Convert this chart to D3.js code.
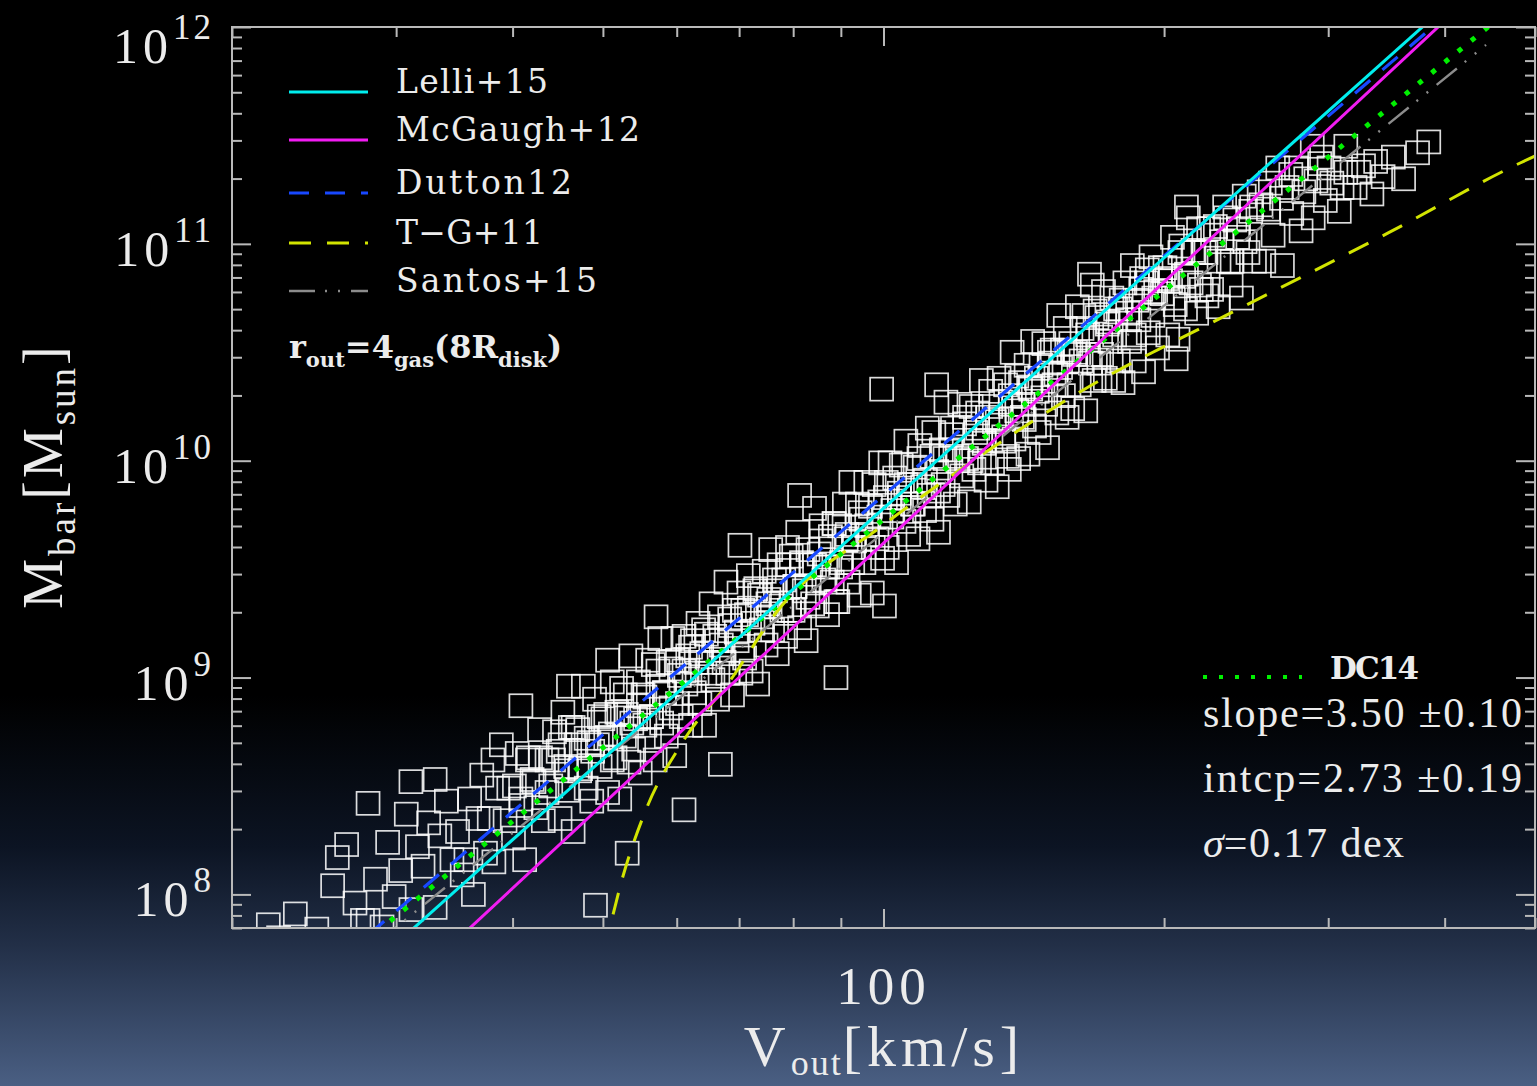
<!DOCTYPE html>
<html>
<head>
<meta charset="utf-8">
<script src="https://cdn.jsdelivr.net/npm/d3@7"></script>
<style>
  html, body { margin: 0; padding: 0; background: #000; overflow: hidden; }
  svg { display: block; }
</style>
</head>
<body>
<svg id="chart" width="1537" height="1086"></svg>
<script>
// ---- data -------------------------------------------------------------
const velocityDomain = [20, 500];          // Vout, km/s
const massDomain = [7e7, 1e12];            // Mbar, Msun
const xMajorTicks = [100];
const yMajorTicks = [1e8, 1e9, 1e10, 1e11, 1e12];

// simulated galaxies: [log10 Vout (km/s), log10 Mbar (Msun)]
const galaxies = [
  [1.340,7.86],[1.351,7.80],[1.369,7.91],[1.392,7.84],[1.409,8.04],[1.414,8.17],[1.424,8.23],[1.433,7.96],[1.441,7.88],[1.447,8.42],[1.447,7.88],
  [1.455,8.07],[1.462,7.85],[1.468,8.24],[1.475,7.99],[1.482,8.11],[1.488,8.37],[1.493,7.93],[1.500,8.22],[1.506,8.13],[1.512,8.33],[1.519,7.94],[1.524,8.27],[1.531,8.43],[1.537,8.16],[1.543,8.29],[1.548,8.09],[1.493,8.52],[1.519,8.53],
  [1.552,8.16],[1.556,8.44],[1.560,8.00],[1.565,8.35],[1.569,8.55],[1.573,8.19],[1.577,8.35],[1.582,8.15],[1.586,8.49],[1.590,8.69],[1.594,8.34],[1.598,8.49],[1.603,8.26],[1.607,8.65],[1.611,8.44],[1.615,8.16],[1.619,8.63],[1.623,8.53],[1.627,8.40],[1.631,8.76],[1.635,8.34],[1.639,8.62],[1.643,8.50],[1.647,8.75],[1.581,8.62],[1.611,8.87],
  [1.651,8.66],[1.653,8.35],[1.656,8.84],[1.659,8.59],[1.661,8.48],[1.664,8.77],[1.667,8.29],[1.670,8.69],[1.672,8.76],[1.675,8.58],[1.678,8.96],[1.681,8.49],[1.684,8.70],[1.687,8.43],[1.690,8.90],[1.693,8.69],[1.696,8.59],[1.699,8.81],[1.662,8.96],[1.691,7.95],
  [1.702,8.83],[1.704,8.47],[1.707,8.74],[1.709,8.98],[1.712,8.63],[1.714,8.84],[1.717,8.44],[1.719,8.95],[1.722,8.73],[1.724,8.83],[1.727,8.61],[1.729,9.10],[1.732,8.67],[1.734,8.81],[1.737,8.98],[1.739,8.56],[1.742,8.92],[1.744,8.78],[1.747,9.08],[1.749,8.71],[1.704,9.08],[1.725,8.19],
  [1.751,8.82],[1.753,9.06],[1.755,8.62],[1.758,8.96],[1.760,9.18],[1.762,8.79],[1.765,8.93],[1.767,8.73],[1.769,9.07],[1.772,8.86],[1.774,9.18],[1.776,8.64],[1.779,9.08],[1.781,9.01],[1.783,8.82],[1.786,9.19],[1.788,8.97],[1.790,9.10],[1.793,8.78],[1.795,9.17],[1.797,8.93],[1.799,9.07],[1.756,9.28],[1.786,8.39],
  [1.801,9.25],[1.803,8.88],[1.805,9.11],[1.808,8.78],[1.810,9.20],[1.812,9.07],[1.815,9.34],[1.817,8.99],[1.819,9.19],[1.822,8.90],[1.824,9.28],[1.826,9.15],[1.829,9.07],[1.831,9.44],[1.833,9.02],[1.836,9.24],[1.838,8.92],[1.840,9.31],[1.843,9.17],[1.845,9.39],[1.847,9.02],[1.849,9.31],[1.825,8.60],[1.846,9.61],
  [1.851,9.09],[1.853,9.29],[1.855,9.47],[1.858,9.03],[1.860,9.25],[1.862,9.40],[1.865,8.97],[1.867,9.38],[1.869,9.22],[1.872,9.49],[1.874,9.15],[1.876,9.34],[1.879,9.59],[1.881,9.22],[1.883,9.45],[1.886,9.11],[1.888,9.52],[1.890,9.33],[1.893,9.45],[1.895,9.19],[1.897,9.60],[1.899,9.31],
  [1.901,9.56],[1.903,9.31],[1.905,9.42],[1.908,9.67],[1.910,9.23],[1.912,9.52],[1.915,9.40],[1.917,9.17],[1.919,9.59],[1.922,9.52],[1.924,9.34],[1.926,9.78],[1.929,9.33],[1.931,9.57],[1.933,9.70],[1.936,9.45],[1.938,9.51],[1.940,9.29],[1.943,9.65],[1.945,9.44],[1.947,9.71],[1.949,9.35],[1.910,9.84],[1.949,9.00],
  [1.951,9.35],[1.953,9.70],[1.955,9.53],[1.958,9.80],[1.960,9.64],[1.962,9.44],[1.965,9.90],[1.967,9.53],[1.969,9.63],[1.972,9.80],[1.974,9.38],[1.976,9.73],[1.979,9.53],[1.981,9.90],[1.983,9.66],[1.986,9.79],[1.988,9.39],[1.990,9.89],[1.993,9.64],[1.995,9.74],[1.997,9.99],[1.999,9.55],[1.998,10.33],[2.001,9.33],
  [2.002,9.83],[2.004,9.60],[2.007,9.99],[2.009,9.74],[2.012,9.92],[2.014,9.53],[2.017,9.83],[2.019,9.98],[2.022,9.72],[2.024,10.09],[2.027,9.66],[2.029,9.89],[2.032,9.80],[2.034,9.97],[2.037,9.64],[2.039,10.07],[2.042,9.88],[2.044,9.77],[2.047,10.15],[2.049,9.84],
  [2.052,9.73],[2.054,10.13],[2.057,9.95],[2.059,9.67],[2.062,10.05],[2.064,9.89],[2.067,10.27],[2.069,9.84],[2.072,10.05],[2.074,10.15],[2.077,9.80],[2.079,10.02],[2.082,10.26],[2.084,9.93],[2.087,10.17],[2.089,10.01],[2.092,9.81],[2.094,10.25],[2.097,9.96],[2.099,10.13],[2.057,10.35],
  [2.101,10.22],[2.103,9.99],[2.105,10.37],[2.108,10.08],[2.110,9.91],[2.112,10.20],[2.115,10.32],[2.117,9.99],[2.119,10.18],[2.122,9.88],[2.124,10.38],[2.126,10.27],[2.129,10.11],[2.131,10.35],[2.133,10.02],[2.136,10.26],[2.138,10.50],[2.140,10.10],[2.143,10.23],[2.145,10.01],[2.147,10.36],[2.149,10.20],[2.135,9.96],
  [2.151,10.19],[2.153,10.44],[2.155,10.03],[2.158,10.33],[2.160,10.55],[2.162,10.16],[2.165,10.32],[2.167,10.13],[2.169,10.44],[2.172,10.54],[2.174,10.26],[2.176,10.06],[2.179,10.45],[2.181,10.51],[2.183,10.35],[2.186,10.22],[2.188,10.67],[2.190,10.43],[2.193,10.30],[2.195,10.61],[2.197,10.20],[2.199,10.50],
  [2.201,10.54],[2.203,10.24],[2.205,10.49],[2.208,10.71],[2.210,10.35],[2.212,10.46],[2.215,10.67],[2.217,10.23],[2.219,10.58],[2.222,10.45],[2.224,10.81],[2.226,10.37],[2.229,10.66],[2.231,10.45],[2.233,10.57],[2.236,10.78],[2.238,10.38],[2.240,10.63],[2.243,10.55],[2.245,10.75],[2.247,10.37],[2.249,10.70],[2.221,10.86],
  [2.252,10.46],[2.254,10.70],[2.257,10.36],[2.259,10.82],[2.262,10.65],[2.264,10.55],[2.267,10.90],[2.269,10.46],[2.272,10.74],[2.274,10.65],[2.277,10.84],[2.279,10.41],[2.282,10.82],[2.284,10.59],[2.287,10.94],[2.289,10.67],[2.292,10.78],[2.294,10.52],[2.297,10.89],[2.299,10.77],[2.314,10.47],
  [2.302,10.89],[2.305,10.58],[2.308,10.83],[2.310,11.03],[2.313,10.72],[2.316,10.56],[2.319,10.99],[2.322,10.85],[2.324,10.70],[2.327,11.12],[2.330,10.82],[2.333,10.96],[2.336,10.68],[2.338,11.07],[2.341,10.79],[2.344,10.96],[2.347,10.76],[2.349,11.07],[2.325,11.17],
  [2.352,10.79],[2.356,11.08],[2.359,10.71],[2.363,11.01],[2.366,11.17],[2.370,10.92],[2.373,10.81],[2.377,11.11],[2.380,11.03],[2.384,10.75],[2.387,11.22],[2.391,10.96],[2.394,11.15],[2.398,10.92],
  [2.403,11.24],[2.408,10.92],[2.413,11.16],[2.418,11.04],[2.423,11.35],[2.428,10.90],[2.433,11.26],[2.438,11.14],[2.443,11.35],[2.448,11.06],
  [2.453,11.30],[2.461,11.12],[2.468,11.37],[2.474,11.20],[2.481,11.28],[2.489,11.15],[2.496,11.33],[2.460,11.45],[2.496,11.45],[2.470,11.40],
  [2.506,11.26],[2.515,11.36],[2.524,11.23],[2.536,11.31],[2.547,11.40],
  [2.558,11.30],[2.573,11.42],[2.585,11.47],
  // densest part of the sequence
  [1.604,8.50],[1.611,8.41],[1.618,8.62],[1.625,8.52],[1.632,8.63],[1.639,8.47],[1.646,8.62],[1.653,8.69],[1.660,8.57],[1.667,8.77],
  [1.674,8.57],[1.681,8.72],[1.688,8.66],[1.695,8.82],[1.702,8.72],[1.709,8.62],[1.716,8.83],[1.723,8.92],[1.730,8.79],[1.737,8.87],
  [1.744,8.91],[1.751,8.82],[1.758,9.03],[1.765,8.93],[1.772,9.04],[1.779,8.88],[1.786,9.03],[1.793,9.14],[1.800,9.02],[1.807,9.22],
  [1.814,9.02],[1.821,9.17],[1.828,9.11],[1.835,9.27],[1.842,9.21],[1.849,9.11],[1.856,9.32],[1.863,9.41],[1.870,9.28],[1.877,9.36],
  [1.884,9.40],[1.891,9.31],[1.898,9.52],[1.905,9.42],[1.912,9.53],[1.919,9.37],[1.926,9.52],[1.933,9.63],[1.940,9.51],[1.947,9.71],
  [1.954,9.51],[1.961,9.66],[1.968,9.60],[1.975,9.76],[1.982,9.70],[1.989,9.60],[1.996,9.81],[2.003,9.90],[2.010,9.77],[2.017,9.85],
  [2.024,9.89],[2.031,9.80],[2.038,10.01],[2.045,9.91],[2.052,10.02],[2.059,9.86],[2.066,10.01],[2.073,10.12],[2.080,10.00],[2.087,10.20],
  [2.094,10.00],[2.101,10.15],[2.108,10.09],[2.115,10.25],[2.122,10.19],[2.129,10.09],[2.136,10.30],[2.143,10.39],[2.150,10.26],[2.157,10.34],
  [2.164,10.38],[2.171,10.29],[2.178,10.50],[2.185,10.40],[2.192,10.51],[2.199,10.35],[2.206,10.50],[2.213,10.61],[2.220,10.49],[2.227,10.69],
  [2.234,10.49],[2.241,10.64],[2.248,10.58],[2.255,10.74],[2.262,10.68],[2.269,10.58],[2.276,10.79],[2.283,10.88],[2.290,10.75],[2.297,10.83],
  [2.304,10.84],[2.311,10.75],[2.318,10.96],[2.325,10.86],[2.332,10.97],[2.339,10.81],[2.346,10.96],[2.353,11.04],[2.360,10.92],[2.367,11.12],
  [2.374,10.92],[2.381,11.07],[2.388,11.01],[2.395,11.17],
  [2.405,11.18],[2.415,11.28],[2.427,11.21],[2.437,11.32],[2.451,11.24],[2.464,11.29],[2.478,11.35],[2.492,11.26],[2.510,11.33],[2.528,11.38]
];

// published relations: log Mbar = intercept + slope * log Vout
const relationNames      = ["Lelli+15", "McGaugh+12", "Dutton12", "T\u2212G+11", "Santos+15"];
const relationSlopes     = [3.84, 4.00, 3.666, null, 3.48];
const relationIntercepts = [2.10, 1.62, 2.508, null, 2.708];
const relationVmax       = [500, 500, 500, null, 443];

// T-G+11 curve (Vout km/s, Mbar Msun)
const tgVout = [49.9, 50.8, 52.5, 55.7, 60.8, 68.6, 76.7, 100, 120, 163.8, 233.6, 347.5, 482, 500];
const tgMbar = [5.5e7, 7.0e7, 1.2e8, 2.5e8, 5.0e8, 9.8e8, 1.99e9, 5.06e9, 8.9e9, 2.12e10, 4.7e10, 1.12e11, 2.36e11, 2.54e11];

// DC14 fit to the simulated sample
const dc14Slope = 3.50, dc14SlopeErr = 0.10;
const dc14Intercept = 2.73, dc14InterceptErr = 0.19;
const dc14Scatter = 0.17;

// ---- layout & styles -------------------------------------------------
const W = 1537, H = 1086;
const plot = { left: 232, right: 1535, top: 27, bottom: 928 };
const axisColor = "#b9b9b9";
const textColor = "#ececec";
const relationStyles = [
  { color: "#00eeee", dash: null,                      width: 3 },
  { color: "#f21cf2", dash: null,                      width: 3 },
  { color: "#1848ff", dash: "20,16",                   width: 3.2 },
  { color: "#d2e400", dash: "22,16",                   width: 3 },
  { color: "#8c8c8c", dash: "26,10,2,11,2,11",         width: 2.4 }
];
const dc14Style = { color: "#00f000", dash: "5,12", width: 5 };

const svg = d3.select("#chart");
const defs = svg.append("defs");

const grad = defs.append("linearGradient").attr("id", "bg")
  .attr("x1", 0).attr("y1", 0).attr("x2", 0).attr("y2", 1);
[[0, "#000000"], [0.64, "#000000"], [0.78, "#0c1423"], [0.87, "#222f47"], [1, "#4a5f83"]]
  .forEach(([o, c]) => grad.append("stop").attr("offset", o).attr("stop-color", c));
svg.append("rect").attr("width", W).attr("height", H).attr("fill", "url(#bg)");

defs.append("clipPath").attr("id", "plotClip").append("rect")
  .attr("x", plot.left).attr("y", plot.top)
  .attr("width", plot.right - plot.left).attr("height", plot.bottom - plot.top);

const x = d3.scaleLog().domain(velocityDomain).range([plot.left, plot.right]);
const y = d3.scaleLog().domain(massDomain).range([plot.bottom, plot.top]);

// ---- scatter ----------------------------------------------------------
const marks = svg.append("g").attr("clip-path", "url(#plotClip)");
const S = 23;
marks.append("g").selectAll("rect").data(galaxies).join("rect")
  .attr("x", d => x(10 ** d[0]) - S / 2)
  .attr("y", d => y(10 ** d[1]) - S / 2)
  .attr("width", S).attr("height", S)
  .attr("fill", "none").attr("stroke", "#ffffff")
  .attr("stroke-opacity", 0.86).attr("stroke-width", 1.7);

// ---- relations ---------------------------------------------------------
const line = d3.line().x(d => x(d[0])).y(d => y(d[1]));
const curve = d3.line().x(d => x(d[0])).y(d => y(d[1])).curve(d3.curveMonotoneX);

function powerLaw(i) {
  const m = relationSlopes[i], b = relationIntercepts[i];
  return [velocityDomain[0], relationVmax[i]].map(v => [v, 10 ** (b + m * Math.log10(v))]);
}
function drawPath(gen, pts, st) {
  marks.append("path").attr("d", gen(pts)).attr("fill", "none")
    .attr("stroke", st.color).attr("stroke-width", st.width)
    .attr("stroke-dasharray", st.dash);
}

// T-G+11
drawPath(curve, tgVout.map((v, i) => [v, tgMbar[i]]), relationStyles[3]);
// Santos+15
drawPath(line, powerLaw(4), relationStyles[4]);
// DC14
drawPath(line, [velocityDomain[0], velocityDomain[1]].map(v => [v, 10 ** (dc14Intercept + dc14Slope * Math.log10(v))]), dc14Style);
// Dutton12, Lelli+15, McGaugh+12
[2, 0, 1].forEach(i => drawPath(line, powerLaw(i), relationStyles[i]));

// ---- axes ----------------------------------------------------------------
const xTicks = x.ticks();
const yTicks = y.ticks();
const xMinor = xTicks.filter(v => !xMajorTicks.includes(v));
const yMinor = yTicks.filter(v => !yMajorTicks.some(m => Math.abs(m - v) / m < 1e-6));

function styleAxis(sel) {
  sel.select(".domain").remove();
  sel.selectAll(".tick line").attr("stroke", axisColor).attr("stroke-width", 2);
  sel.selectAll(".tick text").remove();
}
const axes = svg.append("g");
[[d3.axisBottom, x, `translate(0,${plot.bottom})`, "x"],
 [d3.axisTop, x, `translate(0,${plot.top})`, "x"],
 [d3.axisLeft, y, `translate(${plot.left},0)`, "y"],
 [d3.axisRight, y, `translate(${plot.right},0)`, "y"]].forEach(([fn, sc, tr, k]) => {
  const minor = k === "x" ? xMinor : yMinor;
  const major = k === "x" ? xMajorTicks : yMajorTicks;
  axes.append("g").attr("transform", tr)
    .call(fn(sc).tickValues(minor).tickSize(-10).tickFormat(""))
    .call(styleAxis);
  axes.append("g").attr("transform", tr)
    .call(fn(sc).tickValues(major).tickSize(-19).tickFormat(""))
    .call(styleAxis);
});
axes.append("rect")
  .attr("x", plot.left).attr("y", plot.top)
  .attr("width", plot.right - plot.left).attr("height", plot.bottom - plot.top)
  .attr("fill", "none").attr("stroke", axisColor).attr("stroke-width", 2);

// tick labels
const serif = "'Liberation Serif', 'Times New Roman', serif";
yMajorTicks.forEach(v => {
  const t = svg.append("text")
    .attr("x", 214).attr("y", Math.max(y(v) + 22, 63))
    .attr("text-anchor", "end").attr("fill", textColor)
    .attr("font-family", serif).attr("font-size", 50).attr("letter-spacing", 5);
  t.append("tspan").text("10");
  t.append("tspan").attr("dy", -24).attr("font-size", 35).attr("letter-spacing", 3)
    .text(Math.round(Math.log10(v)));
});
xMajorTicks.forEach(v => {
  svg.append("text").attr("x", x(v)).attr("y", 1004)
    .attr("text-anchor", "middle").attr("fill", textColor)
    .attr("font-family", serif).attr("font-size", 53).attr("letter-spacing", 5)
    .text(v);
});

// axis titles
const xt = svg.append("text").attr("x", 884).attr("y", 1066)
  .attr("text-anchor", "middle").attr("fill", textColor)
  .attr("font-family", serif).attr("font-size", 58).attr("letter-spacing", 5);
xt.append("tspan").text("V");
xt.append("tspan").attr("dy", 9).attr("font-size", 36).attr("letter-spacing", 2).text("out");
xt.append("tspan").attr("dy", -9).text("[km/s]");

const yt = svg.append("text").attr("transform", "translate(62,476) rotate(-90)")
  .attr("text-anchor", "middle").attr("fill", textColor)
  .attr("font-family", serif).attr("font-size", 56).attr("letter-spacing", 3);
yt.append("tspan").text("M");
yt.append("tspan").attr("dy", 13).attr("font-size", 37).text("bar");
yt.append("tspan").attr("dy", -13).text("[M");
yt.append("tspan").attr("dy", 13).attr("font-size", 37).text("sun");
yt.append("tspan").attr("dy", -13).text("]");

// ---- legend -----------------------------------------------------------------
const legendFont = "'DejaVu Serif', serif";
const legendBase = [93, 141, 194, 244, 292];
const legendWidth = [152, 244, 176, 147, 201];
relationNames.forEach((name, i) => {
  const st = relationStyles[i];
  svg.append("line").attr("x1", 289).attr("x2", 368)
    .attr("y1", legendBase[i] - 1).attr("y2", legendBase[i] - 1)
    .attr("stroke", st.color).attr("stroke-width", st.width)
    .attr("stroke-dasharray", st.dash);
  svg.append("text").attr("x", 396).attr("y", legendBase[i])
    .attr("fill", textColor).attr("font-family", legendFont).attr("font-size", 33)
    .attr("textLength", legendWidth[i]).attr("lengthAdjust", "spacing")
    .text(name);
});

const rt = svg.append("text").attr("x", 289).attr("y", 358)
  .attr("fill", textColor).attr("font-family", legendFont)
  .attr("font-weight", "bold").attr("font-size", 32);
rt.append("tspan").text("r");
rt.append("tspan").attr("dy", 9).attr("font-size", 21).text("out");
rt.append("tspan").attr("dy", -9).text("=4");
rt.append("tspan").attr("dy", 9).attr("font-size", 21).text("gas");
rt.append("tspan").attr("dy", -9).text("(8R");
rt.append("tspan").attr("dy", 9).attr("font-size", 21).text("disk");
rt.append("tspan").attr("dy", -9).text(")");

// DC14 fit box
svg.append("line").attr("x1", 1203).attr("x2", 1302).attr("y1", 677).attr("y2", 677)
  .attr("stroke", dc14Style.color).attr("stroke-width", 4).attr("stroke-dasharray", "4,12");
svg.append("text").attr("x", 1330).attr("y", 679)
  .attr("fill", textColor).attr("font-family", legendFont).attr("font-weight", "bold")
  .attr("font-size", 31).attr("textLength", 89).attr("lengthAdjust", "spacing").text("DC14");

[[727, `slope=${dc14Slope.toFixed(2)} \u00b1${dc14SlopeErr.toFixed(2)}`, 319],
 [792, `intcp=${dc14Intercept.toFixed(2)} \u00b1${dc14InterceptErr.toFixed(2)}`, 319]]
  .forEach(([yy, s, w]) => {
    svg.append("text").attr("x", 1203).attr("y", yy)
      .attr("fill", textColor).attr("font-family", serif).attr("font-size", 42)
      .attr("textLength", w).attr("lengthAdjust", "spacing").text(s);
  });
const st3 = svg.append("text").attr("x", 1203).attr("y", 857)
  .attr("fill", textColor).attr("font-family", serif).attr("font-size", 42);
st3.append("tspan").attr("font-style", "italic").text("\u03c3");
st3.append("tspan").attr("letter-spacing", 1.5).text(`=${dc14Scatter.toFixed(2)} dex`);
</script>
</body>
</html>
